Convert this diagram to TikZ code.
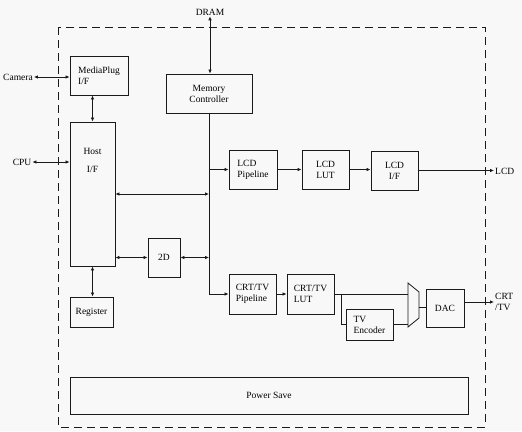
\documentclass[tikz,border=0pt]{standalone}
\usepackage{fontspec}
\setmainfont{Liberation Serif}
\usepackage{xcolor}
\usetikzlibrary{arrows.meta,positioning,calc}
\definecolor{paper}{HTML}{F8F8F8}
\definecolor{ink}{HTML}{1A1A1A}
\tikzset{
  blk/.style={draw=ink,line width=0.9pt,align=center,inner sep=1pt,
              font=\fontsize{9.5}{11}\selectfont},
  lblk/.style={blk,align=left},
  tag/.style={inner sep=1pt,align=left,font=\fontsize{9.5}{11}\selectfont},
  wire/.style={draw=ink,line width=0.8pt},
  arr/.style={wire,-{Latex[length=4pt,width=3.6pt]}},
  biarr/.style={wire,{Latex[length=4pt,width=3.6pt]}-{Latex[length=4pt,width=3.6pt]}},
  chipbox/.style={draw=ink,line width=0.8pt,dash pattern=on 8pt off 5pt}
}
\begin{document}
\begin{tikzpicture}[x=1pt,y=-1pt]
    \fill[paper] (0,0) rectangle (522,431);
    \path[use as bounding box] (0,0) rectangle (522,431);

    \draw[chipbox] (58,27) rectangle (485,427);

    % outside labels
    \node[tag] (dram) at (210,12) {DRAM};
    \node[tag] (camera) at (18,77) {Camera};
    \node[tag] (cpu) at (22,162) {CPU};
    \node[tag,anchor=west] (lcd) at (494,171) {LCD};
    \node[tag,anchor=west] (crttv) at (494,302) {CRT\\/TV};

    % blocks
    \node[lblk,minimum width=58,minimum height=39] (mplug) at (99,75.5)
      {MediaPlug\\I/F};
    \node[blk,minimum width=86,minimum height=39] (memctrl) at (209,93.5)
      {Memory\\Controller};
    \node[blk,minimum width=45,minimum height=144,
          label={[tag,align=center,anchor=north,yshift=-26pt]north:Host\\[7pt]I/F}]
      (host) at (92.5,194) {};
    \node[blk,minimum width=43,minimum height=30] (reg) at (91.5,312) {Register};
    \node[blk,minimum width=32,minimum height=39] (twod) at (164,257.5) {2D};
    \node[lblk,minimum width=48,minimum height=39] (lcdpipe) at (253,169.5)
      {LCD\\Pipeline};
    \node[blk,minimum width=47,minimum height=39] (lcdlut) at (325.5,169.5)
      {LCD\\LUT};
    \node[blk,minimum width=47,minimum height=39] (lcdif) at (394.5,170.5)
      {LCD\\I/F};
    \node[lblk,minimum width=47,minimum height=40] (crtpipe) at (252.5,294)
      {CRT/TV\\Pipeline};
    \node[lblk,minimum width=47,minimum height=40] (crtlut) at (310.5,294)
      {CRT/TV\\LUT};
    \node[lblk,minimum width=47,minimum height=31] (tvenc) at (369.5,324.5)
      {TV\\Encoder};
    \node[blk,minimum width=38,minimum height=38] (dac) at (445,308) {DAC};
    \node[blk,minimum width=398,minimum height=37] (power) at (269,395.5)
      {Power Save};

    % mux
    \coordinate (muxtl) at (408,283);
    \coordinate (muxbl) at (408,327);
    \coordinate (muxout) at (419,307);
    \draw[wire] (muxtl) -- (419,292) -- (419,318) -- (muxbl) -- cycle;

    % host side
    \draw[biarr] (camera.east) -- (camera.east -| mplug.west);
    \draw[biarr] (cpu.east) -- (cpu.east -| host.west);
    \draw[biarr] (dram.south) -- (dram.south |- memctrl.north);
    \draw[biarr] (mplug.south -| host.north) -- (host.north);
    \draw[biarr] (host.south) -- (host.south |- reg.north);
    \draw[biarr] (host.east) -- (host.east -| memctrl.south);
    \draw[biarr] (twod.west -| host.east) -- (twod.west);
    \draw[biarr] (twod.east) -- (twod.east -| memctrl.south);

    % bus
    \draw[arr] (memctrl.south) |- (crtpipe.west);
    \draw[arr] (memctrl.south |- lcdpipe.west) -- (lcdpipe.west);

    % lcd path
    \draw[arr] (lcdpipe.east) -- (lcdpipe.east -| lcdlut.west);
    \draw[arr] (lcdlut.east) -- (lcdlut.east -| lcdif.west);
    \draw[arr] (lcdif.east) -- (lcdif.east -| lcd.west);

    % crt/tv path
    \coordinate (split) at (341,294);
    \draw[arr] (crtpipe.east) -- (crtpipe.east -| crtlut.west);
    \draw[wire] (crtlut.east) -- (crtlut.east -| muxtl);
    \draw[wire] (crtlut.east -| split) |- (tvenc.west);
    \draw[wire] (tvenc.east) -- (tvenc.east -| muxtl);
    \draw[wire] (muxout) -- (muxout -| dac.west);
    \draw[arr] ([yshift=6pt]dac.east) -- ([yshift=6pt]dac.east -| crttv.west);
  \end{tikzpicture}
\end{document}
